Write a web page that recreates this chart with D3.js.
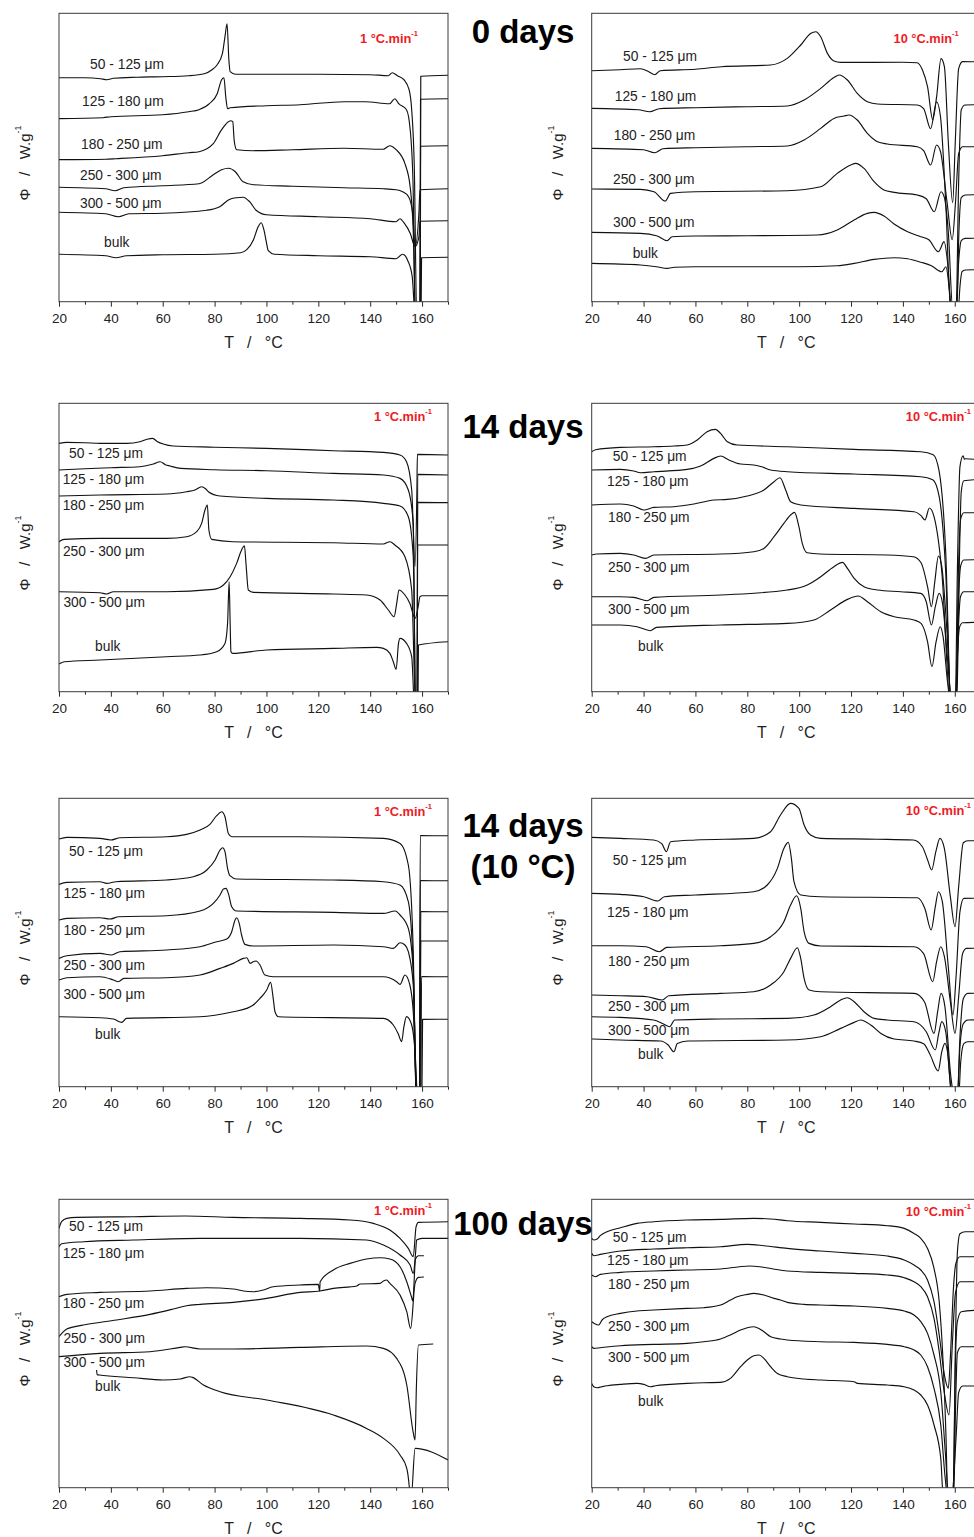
<!DOCTYPE html>
<html>
<head>
<meta charset="utf-8">
<script src="https://cdn.jsdelivr.net/npm/d3@7"></script>
<style>
  html, body { margin: 0; padding: 0; background: #fff; }
  svg { display: block; font-family: "Liberation Sans", Arial, sans-serif; }
</style>
</head>
<body>
<svg id="fig" width="974" height="1537"></svg>
<script>
// ---------------------------------------------------------------
// DSC heating curves of powder fractions, heat flow Φ (offset, a.u.)
// versus temperature T (°C). Each series is a list of [T, Φ] pairs,
// curves ordered: 50-125, 125-180, 180-250, 250-300, 300-500 µm, bulk.
// ---------------------------------------------------------------
const sizeLabels = ["50 - 125 \u03bcm", "125 - 180 \u03bcm", "180 - 250 \u03bcm",
                    "250 - 300 \u03bcm", "300 - 500 \u03bcm", "bulk"];
const tempTicks = [20, 40, 60, 80, 100, 120, 140, 160];
const tempMinorTicks = [30, 50, 70, 90, 110, 130, 150, 170];
const tempDomain = [20, 170];
const signalDomain = [0, 28.8];
const ageTitles = [["0 days"], ["14 days"], ["14 days", "(10 \u00b0C)"], ["100 days"]];
const rateLabels = ["1 \u00b0C.min", "10 \u00b0C.min"];

// 0 days, 1 °C/min
const day0_rate1 = [
  [[20,22.4],[30,22.4],[36,22.3],[38.5,22.2],[41,22.35],[50,22.45],[60,22.5],[70,22.6],[76,22.8],[79,23.2],[81,23.7],[83,24.8],[84,26.5],[84.8,27.8],[85.5,24.2],[86,23.0],[88,22.75],[100,22.75],[120,22.75],[140,22.7],[147,22.6],[148.5,22.9],[150.5,22.6],[153,22.2],[155,21.2],[156,19.2],[157,13.5],[158,-2],[159.3,-2],[159.5,22.55],[170,22.65]],
  [[20,18.3],[37,18.4],[40,18.5],[60,18.7],[70,19.0],[74,19.2],[78,19.8],[81,20.8],[82.7,22.2],[83.6,22.4],[84.3,20.5],[85,19.3],[86,19.4],[100,19.6],[113,19.7],[130,20.0],[138,20.0],[147.5,19.8],[149.5,20.3],[151,19.8],[154,19.2],[155.5,17.0],[156.5,12],[157.5,-2],[159.2,-2],[159.4,20.25],[170,20.3]],
  [[20,14.2],[38,14.25],[42,14.3],[60,14.6],[70,14.9],[74,15.0],[79.5,15.8],[82.7,17.2],[85.3,18.0],[86.2,18.1],[87,18.0],[87.6,16.0],[88.5,15.2],[95,15.1],[110,15.2],[130,15.35],[145,15.25],[147.5,15.6],[150,15.2],[153.4,13.8],[155.4,11.5],[156.6,7],[157.5,-2],[159.2,-2],[159.4,15.55],[170,15.6]],
  [[20,11.45],[38,11.3],[41.6,11.1],[45,11.4],[60,11.6],[74,11.8],[79.5,12.7],[82.7,13.2],[85.4,13.35],[88,13.0],[91,12.0],[95,11.7],[110,11.55],[130,11.4],[145,11.3],[150,11.2],[152.5,11.0],[154.8,10.5],[156.4,8.8],[157.3,5.5],[158.8,9],[159.2,11.2],[170,11.3]],
  [[20,8.95],[38,8.8],[42.9,8.5],[47,8.8],[60,8.85],[77,9.15],[82,9.5],[85.5,10.2],[88.5,10.4],[91,10.45],[93.5,10.0],[96,9.15],[100,8.7],[120,8.5],[140,8.3],[150,8.0],[151.5,8.3],[153,7.9],[155.5,6.8],[157.3,5.5],[158.8,6.5],[159.2,8.05],[170,8.1]],
  [[20,4.75],[38,4.6],[42,4.4],[46,4.6],[60,4.7],[80,4.75],[90,4.9],[92.4,5.2],[95,6.2],[96.8,7.5],[98,7.9],[99,7.2],[100,5.9],[100.7,5.1],[103,4.75],[120,4.6],[140,4.5],[150,4.3],[152.5,4.75],[154.5,4.1],[156.2,2.5],[157.5,-2],[159.6,-2],[159.8,4.4],[170,4.45]]
];

// 0 days, 10 °C/min
const day0_rate10 = [
  [[20,23.1],[31,23.2],[38.8,23.3],[42,23.0],[44.3,22.7],[46.5,23.1],[60,23.25],[70,23.5],[89,23.67],[95.4,24.33],[100.6,25.67],[104.4,26.83],[106.4,27.0],[108.3,26.5],[110.9,24.83],[113.4,24.07],[116,23.93],[140,23.95],[145.5,23.9],[147.5,23.2],[149.5,21.5],[151.5,18.2],[153,20.5],[154.7,24.3],[156,23.5],[157.5,16],[159.2,9.9],[160.2,16],[161.5,23.3],[163,24],[170,24]],
  [[20,19.33],[38,19.2],[42.4,19.0],[46,19.3],[60,19.4],[80,19.5],[95.4,19.57],[101.9,20.17],[108.3,21.33],[113.4,22.43],[115.4,22.67],[118.6,22.17],[122.4,20.83],[126.3,20.0],[130.2,19.77],[145.6,19.67],[148,19.3],[150.7,17.3],[153,20.0],[154.5,18.5],[156.5,10],[158.5,-1],[160.5,-1],[161.5,12],[162.5,19.2],[164,19.67],[170,19.7]],
  [[20,15.33],[40,15.2],[44.3,14.9],[47.5,15.3],[60,15.4],[80,15.5],[95.4,15.57],[101.9,16.17],[108.3,17.33],[113.4,18.33],[117.3,18.57],[119.2,18.67],[122.4,18.17],[126.3,16.83],[130.2,16.0],[134,15.77],[145.6,15.5],[148,15.1],[150.7,13.67],[153,15.67],[154.5,15.0],[157,10],[159,6.2],[160.3,10],[161.5,14.8],[163,15.5],[170,15.5]],
  [[20,11.27],[38.8,11.23],[44,11.0],[48.4,10.07],[50.4,10.83],[60,11.0],[95.4,11.1],[108.3,11.5],[114.7,12.83],[119.9,13.67],[121.8,13.83],[125,13.33],[128.9,12.0],[132.7,11.17],[136.6,10.93],[145.6,10.67],[149,10.3],[152.1,9.0],[154.7,11.0],[156,10.4],[157.5,7],[159.3,-1],[160.8,-1],[161.6,7],[162.5,10.4],[164,10.67],[170,10.7]],
  [[20,6.93],[38.8,6.83],[45,6.6],[49.1,6.1],[51,6.5],[60,6.57],[80,6.6],[107,6.67],[114.7,7.17],[121.2,8.17],[126.3,8.83],[128.9,8.93],[132.7,8.57],[136.6,7.77],[141.8,7.0],[146.9,6.5],[150,6.2],[153.7,5.0],[155.9,6.0],[157.2,4],[158.8,-1],[160.5,-1],[161.5,4],[162.5,6.1],[164,6.33],[170,6.35]],
  [[20,3.83],[38.8,3.67],[45,3.5],[49.1,3.33],[52,3.45],[60,3.5],[100,3.5],[114.7,3.6],[121.2,3.83],[128.9,4.23],[136.6,4.4],[141.8,4.3],[146.9,3.95],[151,3.6],[155,3.0],[156.6,3.5],[157.8,1.5],[158.8,-1],[161.3,-1],[162,1.5],[162.8,3.0],[164,3.17],[170,3.2]]
];

// 14 days, 1 °C/min
const day14_rate1 = [
  [[20,24.83],[23,24.93],[30,24.9],[35.8,24.83],[46.1,24.83],[51.2,25.0],[54,25.25],[56.1,25.33],[58,25.0],[60.2,24.77],[64,24.57],[80,24.45],[100,24.33],[125.8,24.1],[145.1,23.93],[151.5,23.67],[154,23.0],[156,20.17],[157.3,12.5],[158.0,20],[158.2,23.73],[170,23.67]],
  [[20,22.17],[30,22.3],[40,22.4],[51.2,22.5],[56.4,22.77],[59,23.0],[61,22.7],[62.8,22.57],[67,22.33],[80,22.2],[100,22.1],[125.8,21.83],[145.1,21.67],[151.5,21.33],[154.7,20.17],[156.6,16.83],[157.5,-2],[158.1,-2],[158.3,21.73],[170,21.67]],
  [[20,19.57],[35.8,19.67],[61.5,19.77],[69.2,20.0],[72.4,20.17],[75,20.5],[76.5,20.3],[77.6,20.0],[82.1,19.57],[100,19.33],[125.8,19.17],[145.1,18.83],[151.5,18.57],[154.7,17.5],[156.6,13.5],[157.6,-2],[158.1,-2],[158.3,18.93],[170,18.9]],
  [[20,15.0],[22,15.23],[35.8,15.33],[61.5,15.33],[69.2,15.5],[73.1,16.0],[75,16.83],[76.3,18.17],[77.2,18.67],[77.8,16.17],[78.9,15.23],[87,15.0],[125.8,14.9],[145.1,14.77],[147.6,15.0],[149.5,14.67],[153.4,13.5],[156,10.17],[157.6,-2],[158.1,-2],[158.3,14.67],[170,14.67]],
  [[20,10.0],[35.8,9.9],[38.4,9.77],[41,10.0],[61.5,10.0],[79.5,10.23],[83.4,10.67],[86,11.5],[88.5,12.83],[90.4,14.17],[91.5,14.6],[92.1,12.83],[93,10.17],[95,9.93],[125.8,9.77],[138.6,9.67],[143.8,9.17],[147,8.17],[149.2,7.5],[150.2,8.8],[151.1,10.17],[153.4,9.67],[155.3,8.83],[157.3,7.33],[158.5,8.5],[159.2,9.5],[160,9.6],[170,9.6]],
  [[20,2.77],[22,3.0],[35.8,3.17],[61.5,3.5],[74.4,3.67],[80.8,4.0],[84,4.83],[85,6.83],[85.6,11.0],[86,6.83],[86.3,4.0],[87,3.83],[100,4.17],[125.8,4.33],[142.5,4.43],[145.1,4.33],[147.6,3.83],[148.9,3.0],[150,2.23],[150.9,4.8],[151.5,5.33],[154,4.83],[156,3.5],[157.2,-2],[158.4,-2],[158.6,4.67],[170,5.0]]
];

// 14 days, 10 °C/min
const day14_rate10 = [
  [[20,24.0],[21.5,24.2],[31,24.43],[44,24.5],[51.7,24.57],[56.8,24.67],[60.7,25.17],[64.5,26.0],[67.7,26.23],[69.7,25.83],[72.3,25.0],[76.1,24.67],[95.4,24.5],[121.2,24.23],[146.9,24.0],[151.7,23.7],[154,22],[156.5,14],[158.5,-1],[160.2,-1],[161,12],[162,22.5],[163.2,23.6],[163.7,23.25],[164.2,23.3],[170,23.17]],
  [[20,22.17],[31,22.23],[36.2,22.07],[38.8,21.9],[44,22.0],[56.8,22.23],[62,22.57],[67.1,23.33],[69.7,23.57],[72.9,23.17],[77.4,22.77],[82.5,22.67],[85.5,22.5],[89,22.17],[95.4,22.0],[121.2,21.77],[146.9,21.5],[151.5,21.2],[154,19.5],[156.5,12],[158.5,-1],[160.8,-1],[161.7,12],[162.5,20],[163.5,21.1],[170,21.23]],
  [[20,18.67],[31,18.77],[36.2,18.57],[40.1,18.17],[44,18.43],[51.7,18.5],[59.4,18.77],[67.1,19.17],[72.3,19.23],[80,19.57],[86.4,20.17],[90.3,21.0],[92.6,21.4],[94.8,20.17],[96.7,19.0],[100.6,18.67],[121.2,18.33],[144.3,18.0],[147,17.6],[148.5,17.17],[150.2,18.37],[152,17.5],[155,12],[158.3,-1],[160.5,-1],[161.4,12],[162.3,17.3],[163.5,17.9],[170,17.9]],
  [[20,13.67],[22,13.77],[31,13.83],[36.2,13.67],[40.7,13.33],[44,13.67],[69.7,13.77],[82.5,14.0],[86.4,14.33],[90.3,15.5],[94.1,16.83],[96.7,17.67],[98.2,17.93],[99.9,16.5],[101.2,14.83],[103.1,13.9],[108,13.77],[134,13.67],[144,13.5],[147,12.9],[149.5,10.5],[151,8.5],[152.3,11],[153.7,13.57],[155,12.5],[157,6],[158.6,-1],[160.5,-1],[161.3,8],[162.3,12.6],[163.5,13.17],[170,13.2]],
  [[20,9.5],[31,9.5],[36.2,9.43],[41.4,9.1],[44,9.43],[69.7,9.67],[95.4,10.17],[103.1,10.67],[108.3,11.5],[113.4,12.5],[116.7,12.93],[118.6,12.33],[121.2,11.33],[125,10.5],[130.2,10.17],[139.2,10.0],[146.9,9.83],[149,9.0],[151,6.67],[152.5,8.5],[154,9.83],[155.3,8.8],[157.3,3],[158.8,-1],[160.5,-1],[161.2,5],[162.2,9.5],[163.5,10.0],[170,10.0]],
  [[20,6.67],[31,6.67],[37.5,6.5],[42.6,6.1],[45,6.43],[69.7,6.67],[95.4,6.83],[105.7,7.17],[112.1,8.17],[118.6,9.23],[122.7,9.57],[126.3,9.0],[131.5,8.0],[136.6,7.5],[144.3,7.17],[147,6.83],[149.5,5.0],[151.2,2.5],[152.8,5],[154.4,6.5],[155.5,5.5],[157.2,1],[158.4,-1],[160.2,-1],[160.9,3],[161.8,6.4],[163,6.9],[170,6.95]]
];

// 14 days at 10 °C, 1 °C/min
const day14cold_rate1 = [
  [[20,24.77],[23,24.93],[35.8,24.83],[40,24.67],[43.5,24.9],[61.5,25.0],[69.2,25.23],[74.4,25.67],[78.2,26.23],[80.8,27.1],[82.7,27.5],[84,27.0],[85.3,25.33],[86.6,25.0],[113,25.0],[145.1,24.83],[151.5,24.33],[154.7,22.17],[156.6,13.5],[157.8,-2],[159,-2],[159.3,25.1],[170,25.1]],
  [[20,20.23],[23,20.43],[35.8,20.5],[38.4,20.33],[42,20.5],[61.5,20.67],[71.8,21.0],[77,21.67],[80.2,22.67],[82.1,23.67],[83.1,23.9],[84,23.5],[85,21.83],[85.9,21.1],[88.5,20.77],[125.8,20.67],[145.1,20.5],[151.5,20.17],[154.7,18.5],[156.6,11.8],[157.9,-2],[159,-2],[159.3,20.6],[170,20.6]],
  [[20,16.67],[23,16.83],[35.8,16.9],[39.7,16.77],[43,17.0],[61.5,17.1],[74.4,17.57],[79.5,18.33],[82.1,19.17],[83.4,19.77],[84.4,19.83],[85.3,19.33],[86.6,18.0],[88.5,17.57],[125.8,17.43],[145.1,17.33],[149.6,17.57],[151.5,17.17],[154.7,15.83],[156.6,11.5],[158,-2],[159.2,-2],[159.5,17.5],[170,17.5]],
  [[20,12.83],[23,13.1],[35.8,13.33],[40.3,13.17],[43.5,13.5],[61.5,13.67],[74.4,14.0],[80.8,14.5],[84.7,14.77],[86.6,15.5],[87.9,16.67],[88.5,16.9],[89.5,16.33],[90.4,15.17],[91.7,14.23],[94.9,14.07],[125.8,14.17],[145.1,14.0],[148.9,13.83],[151.5,14.4],[153.4,14.17],[154.7,13.5],[156.6,10.17],[158.1,-2],[159.2,-2],[159.5,14.57],[170,14.57]],
  [[20,10.67],[23,10.9],[35.8,11.0],[41,10.67],[42.9,10.5],[45,10.83],[61.5,10.9],[74.4,11.17],[82.1,11.83],[87.2,12.33],[91.1,12.83],[92.4,12.9],[93.7,12.33],[94.9,12.5],[96,12.57],[97.5,12.17],[99.4,11.17],[102.6,11.0],[145.1,11.0],[150.2,10.5],[151.5,10.23],[153.4,11.17],[155.3,10.17],[156.6,7.5],[158.2,-2],[159.5,-2],[159.8,11.0],[170,11.0]],
  [[20,7.0],[35.8,6.9],[41,6.77],[44.2,6.43],[46,6.83],[74.4,7.0],[87.2,7.5],[92.4,7.83],[94.9,8.17],[97.5,8.83],[100.1,9.67],[101.6,10.43],[102.6,8.83],[103.3,7.5],[104.6,7.0],[145.1,6.83],[148.9,6.17],[150.8,5.3],[152.1,4.5],[153,6.0],[154,7.0],[156,6.17],[157.3,3.5],[158.5,-2],[159.9,-2],[160.2,6.73],[170,6.75]]
];

// 14 days at 10 °C, 10 °C/min
const day14cold_rate10 = [
  [[20,24.93],[31,24.83],[43.9,24.67],[47,24.3],[48.8,23.5],[50.4,24.5],[60,24.67],[82.5,24.83],[89,25.5],[92.8,27.17],[96.7,28.33],[99.9,27.83],[101.9,26.17],[104.4,25.17],[108.3,24.83],[130,24.75],[144,24.67],[147.5,24.0],[149.5,22.7],[151.1,21.67],[152.7,23.5],[154.3,24.83],[156,23.8],[158.3,19],[160.1,16.0],[161.5,20],[163.3,24.4],[165,24.6],[170,24.6]],
  [[20,19.33],[31,19.23],[40.1,19.0],[45.5,18.57],[48,19.0],[60,19.17],[82.5,19.5],[87.7,20.17],[91.6,21.83],[94.1,23.83],[95.8,24.43],[97,22.83],[98,20.5],[100.6,19.17],[108,19.0],[145.6,18.9],[148.5,17.8],[150.9,15.67],[152.5,18],[153.7,19.5],[155.2,18.5],[157.5,12],[159.3,7.17],[160.5,11],[162,17.5],[163.5,18.83],[170,18.85]],
  [[20,14.1],[31,14.1],[41,14.0],[46.1,13.5],[49,13.93],[69.7,14.1],[82.5,14.33],[89,15.0],[94.1,16.5],[96.7,18.17],[99,19.1],[100.6,17.83],[101.9,15.5],[103.8,14.33],[108.3,14.07],[144.3,14.0],[148,13.3],[151.5,10.5],[153,12.5],[154.6,14.0],[156,13.0],[158.3,8.5],[160.1,5.33],[161.5,9],[163,13.3],[164.5,13.83],[170,13.85]],
  [[20,9.17],[31,9.1],[41.4,9.0],[47.2,8.67],[49.7,9.1],[69.7,9.33],[82.5,9.5],[89,10.17],[94.1,11.5],[96.7,12.83],[99.3,13.9],[100.6,12.83],[101.9,10.83],[103.8,9.67],[108.3,9.5],[144.3,9.33],[148.3,8.5],[152,5.33],[153.4,7.5],[154.7,9.33],[156.2,8],[158.5,1],[159.8,-1],[161,-1],[162,5],[163.3,8.8],[165,9.33],[170,9.35]],
  [[20,7.0],[31,6.93],[43.9,6.67],[47.5,6.3],[50.1,6.0],[52,6.67],[69.7,6.77],[95.4,6.83],[105.7,7.17],[112.1,8.0],[116,8.67],[118.6,8.9],[121.2,8.5],[125,7.5],[128.9,6.83],[134,6.67],[144.3,6.5],[149,5.5],[152.5,3.67],[153.8,5.3],[155,6.5],[156.5,5.5],[158.5,0],[159.5,-1],[161,-1],[162,4],[163.3,6.3],[165,6.67],[170,6.7]],
  [[20,4.77],[31,4.67],[46.5,4.57],[49.5,4.17],[51.7,3.5],[53,4.33],[57,4.57],[95.4,4.67],[108.3,5.0],[116,5.83],[121.2,6.43],[123.7,6.67],[127.6,6.17],[131.5,5.33],[136.6,4.77],[144.3,4.57],[148,4.3],[150.5,3.2],[153.6,1.57],[155,3.5],[156.2,4.33],[157.3,3.3],[158.8,-1],[161.5,-1],[162.3,2.5],[163.5,4.3],[165,4.5],[170,4.5]]
];

// 100 days, 1 °C/min
const day100_rate1 = [
  [[20,25.93],[21,26.6],[23,26.93],[26.8,27.03],[48.7,27.1],[68.6,27.17],[87.2,27.03],[112.9,26.93],[132.2,26.77],[141.2,26.43],[147.6,25.77],[151.5,24.93],[154.7,23.93],[156.6,23.1],[157.7,26.1],[158.6,26.53],[170,26.6]],
  [[20,24.1],[21,24.4],[29.4,24.6],[48.7,24.77],[74.4,24.93],[112.9,24.93],[138.6,24.77],[145.1,24.27],[151.5,23.27],[155.4,22.27],[156.6,21.43],[157.5,23.5],[157.9,24.77],[160,24.93],[170,24.93]],
  [[20,19.1],[23,19.33],[35.8,19.53],[55.1,19.67],[69.2,19.93],[76.9,20.0],[87.2,19.87],[91.1,19.67],[94.9,19.6],[98.8,19.77],[102.6,20.1],[112.9,20.27],[120,20.33],[120.5,19.67],[120.7,20.6],[125.8,21.77],[132.2,22.43],[138.6,22.87],[143.8,23.0],[147.6,22.87],[151.5,22.1],[154.1,20.6],[156,19.0],[156.4,18.67],[157.5,22.9],[158.6,23.2],[160.7,23.2]],
  [[20,15.1],[23,15.87],[29.4,16.27],[42.2,16.77],[55.1,17.33],[64.1,17.87],[69.2,18.2],[74.4,18.33],[87.2,18.53],[100.1,18.93],[112.9,19.53],[120.6,19.67],[125.8,19.93],[134.8,20.17],[136.1,20.37],[143.8,20.43],[145.1,20.67],[146.3,20.77],[147.6,20.43],[151.5,19.27],[154.1,17.6],[155.6,15.93],[157.3,20.43],[158.6,21.03],[160.7,21.07]],
  [[20,13.1],[35.8,13.43],[55.1,13.6],[66.7,14.03],[68.6,14.1],[74.4,13.87],[87.2,13.87],[112.9,14.03],[138.6,14.17],[145.1,13.93],[150.2,12.93],[154.1,10.27],[156.6,5.5],[157.3,4.77],[157.8,10],[158.6,14.27],[164.3,14.37]],
  [[34.5,11.77],[34.7,11.3],[35.5,11.27],[48.7,11.0],[60.2,10.77],[66.7,10.87],[70.5,11.1],[71.5,11.03],[75.7,10.27],[82.1,9.6],[100.1,8.77],[125.8,7.27],[138.6,5.93],[145.1,4.93],[151.5,3.27],[154.1,1.93],[155.1,0],[155.4,-1],[155.8,-1],[157.3,3.93],[170,2.77]]
];

// 100 days, 10 °C/min
const day100_rate10 = [
  [[20,24.93],[20.8,24.77],[22.1,24.87],[23.3,25.2],[25.9,25.6],[31.1,26.0],[37.5,26.43],[43.9,26.6],[56.8,26.77],[69.7,26.83],[82.5,26.93],[89,26.87],[95.4,26.7],[108.3,26.53],[121.2,26.37],[134,26.2],[140.5,25.93],[144.3,25.43],[146.9,24.93],[149.5,23.93],[152,21.93],[154,18.6],[155.3,13.6],[156.6,5.3],[157.3,-1],[159.3,-1],[160.3,15],[161,23.5],[162,25.4],[164,25.6],[170,25.6]],
  [[20,23.43],[20.8,23.2],[23.3,23.33],[31.1,23.67],[43.9,23.87],[56.8,24.0],[69.7,24.1],[80,24.33],[86.4,24.2],[95.4,23.93],[108.3,23.67],[121.2,23.43],[134,23.17],[140.5,22.77],[144.3,22.27],[146.9,21.77],[149.5,20.77],[152,18.6],[154,15.27],[156.2,11],[157.5,9.93],[158.3,13],[159.5,20],[160.5,22.5],[162,23.1],[170,23.1]],
  [[20,21.27],[21.5,21.1],[23.3,21.33],[31.1,21.53],[43.9,21.67],[56.8,21.77],[69.7,21.87],[77,22.1],[80.9,22.17],[84.8,22.1],[90,21.87],[95.4,21.67],[108.3,21.53],[121.2,21.43],[134,21.27],[140.5,21.0],[144.3,20.6],[146.9,20.1],[149.5,19.1],[152,16.93],[154,13.6],[155.9,9.6],[157.8,7.27],[159,14],[160.3,19.5],[162,20.6],[170,20.6]],
  [[20,16.6],[21,16.43],[22.7,16.27],[24,16.77],[25.9,17.1],[31.1,17.43],[37.5,17.67],[43.9,17.77],[56.8,17.93],[63.2,18.0],[69.7,18.27],[73.5,18.77],[76.1,19.1],[80,19.33],[82.5,19.43],[86.4,19.27],[90.3,18.93],[92.8,18.77],[95.4,18.53],[101.9,18.33],[108.3,18.27],[121.2,18.17],[134,17.93],[140.5,17.67],[144.3,17.27],[146.9,16.6],[149.5,15.43],[152,13.27],[154.6,9.6],[156.5,3],[157.6,-1],[159.4,-1],[160.2,12],[161,16.6],[162.5,17.6],[170,17.77]],
  [[20,14.1],[20.8,13.93],[23.3,14.0],[31.1,14.2],[43.9,14.33],[56.8,14.43],[63.2,14.6],[69.7,14.87],[73.5,15.27],[77.4,15.77],[80,16.0],[82.5,16.1],[84.5,15.93],[86.4,15.6],[89,15.1],[92.8,14.87],[95.4,14.77],[108.3,14.6],[121.2,14.53],[134,14.33],[140.5,14.1],[144.3,13.77],[146.9,13.27],[149.5,12.1],[152,9.93],[154.6,6.27],[156.3,1],[157.3,-1],[159.6,-1],[160.3,8],[161,13.5],[162.5,14.1],[170,14.1]],
  [[20,10.43],[20.8,10.1],[22.1,10.0],[23.9,10.1],[25.9,10.2],[31.1,10.33],[37.5,10.43],[40.1,10.33],[42.7,10.1],[44.6,10.2],[50.4,10.33],[56.8,10.43],[63.2,10.5],[69.7,10.53],[73.5,10.93],[77.4,12.1],[80,12.77],[82.5,13.2],[84.5,13.27],[86.4,12.93],[89,12.1],[91.6,11.43],[95.4,11.1],[101.9,10.87],[108.3,10.77],[121.2,10.6],[122.4,10.43],[134,10.27],[140.5,10.1],[144.3,9.77],[146.9,9.27],[149.5,8.27],[152,6.27],[154.6,2.93],[155.6,-1],[158.8,-1],[160.5,5],[161.5,9.5],[163,10.17],[170,10.17]]
];

// ---------------------------------------------------------------
// Layout
// ---------------------------------------------------------------
const COLS = [
  { x0: 59,    x1: 448,   yTitleX: 24 },
  { x0: 591.7, x1: 980.7, yTitleX: 557 }
];
const ROWS = [
  { bottom: 301.7,  titleBaselines: [43.3] },
  { bottom: 691.7,  titleBaselines: [438.3] },
  { bottom: 1086.7, titleBaselines: [837, 878] },
  { bottom: 1487.7, titleBaselines: [1235] }
];
const PANEL_H = 288.4;

// curve-name anchors in [T, Φ] for every panel
const labelsAt = [
  [[32,23.77],[28.9,20.07],[28.5,15.77],[28.1,12.67],[28.1,9.87],[37.4,5.97]],
  [[32.1,24.5],[28.9,20.57],[28.5,16.6],[28.2,12.23],[28.2,7.9],[35.8,4.83]],
  [[23.9,23.83],[21.4,21.23],[21.4,18.6],[21.5,14.07],[21.7,8.9],[33.9,4.57]],
  [[28.1,23.5],[25.9,21.0],[26.3,17.43],[26.3,12.43],[26.3,8.27],[37.9,4.57]],
  [[23.9,23.57],[21.7,19.33],[21.7,15.67],[21.7,12.17],[21.7,9.27],[33.9,5.27]],
  [[28.1,22.67],[25.9,17.43],[26.3,12.5],[26.3,8.0],[26.3,5.67],[37.9,3.23]],
  [[23.9,26.1],[21.4,23.43],[21.4,18.43],[21.7,14.93],[21.7,12.53],[33.9,10.17]],
  [[28.1,25.0],[25.9,22.77],[26.3,20.37],[26.3,16.1],[26.3,13.0],[37.9,8.6]]
];

const panels = [
  { row: 0, col: 0, series: day0_rate1,       rate: 0, rateRight: 30,  rateY: 24.7 },
  { row: 0, col: 1, series: day0_rate10,      rate: 1, rateRight: 22,  rateY: 25 },
  { row: 1, col: 0, series: day14_rate1,      rate: 0, rateRight: 16,  rateY: 12.7 },
  { row: 1, col: 1, series: day14_rate10,     rate: 1, rateRight: 9.7, rateY: 12.7 },
  { row: 2, col: 0, series: day14cold_rate1,  rate: 0, rateRight: 16,  rateY: 13 },
  { row: 2, col: 1, series: day14cold_rate10, rate: 1, rateRight: 9.7, rateY: 12 },
  { row: 3, col: 0, series: day100_rate1,     rate: 0, rateRight: 16,  rateY: 10.5 },
  { row: 3, col: 1, series: day100_rate10,    rate: 1, rateRight: 9.7, rateY: 12 }
];

// ---------------------------------------------------------------
// Drawing
// ---------------------------------------------------------------
const svg = d3.select("#fig");
svg.append("rect").attr("width", 974).attr("height", 1537).attr("fill", "#fff");
const defs = svg.append("defs");

panels.forEach((p, i) => {
  const c = COLS[p.col], r = ROWS[p.row];
  const top = r.bottom - PANEL_H;
  const x = d3.scaleLinear().domain(tempDomain).range([c.x0, c.x1]);
  const y = d3.scaleLinear().domain(signalDomain).range([r.bottom, r.bottom - 288]);
  const g = svg.append("g");

  const clipId = "plot-clip-" + i;
  defs.append("clipPath").attr("id", clipId)
    .append("rect").attr("x", c.x0).attr("y", top)
    .attr("width", c.x1 - c.x0).attr("height", PANEL_H);

  const line = d3.line()
    .x(d => x(d[0])).y(d => y(d[1]))
    .curve(d3.curveMonotoneX);

  g.append("g").attr("clip-path", `url(#${clipId})`)
    .selectAll("path").data(p.series).join("path")
    .attr("d", line)
    .attr("fill", "none")
    .attr("stroke", "#111")
    .attr("stroke-width", 1.15)
    .attr("stroke-linejoin", "round");

  // frame
  g.append("rect")
    .attr("x", c.x0).attr("y", top)
    .attr("width", c.x1 - c.x0).attr("height", PANEL_H)
    .attr("fill", "none").attr("stroke", "#3a3a3a").attr("stroke-width", 1);

  // temperature axis
  const major = g.append("g").attr("transform", `translate(0,${r.bottom})`)
    .call(d3.axisBottom(x).tickValues(tempTicks).tickSize(5).tickSizeOuter(0).tickPadding(7));
  major.select(".domain").remove();
  major.attr("font-family", null).attr("font-size", 13.5).attr("color", "#2a2a2a");
  major.selectAll("text").attr("fill", "#222");

  const minor = g.append("g").attr("transform", `translate(0,${r.bottom})`)
    .call(d3.axisBottom(x).tickValues(tempMinorTicks).tickSize(3).tickSizeOuter(0).tickFormat(""));
  minor.select(".domain").remove();
  minor.attr("color", "#2a2a2a");

  // axis titles
  g.append("text")
    .attr("x", (c.x0 + c.x1) / 2).attr("y", r.bottom + 46.5)
    .attr("text-anchor", "middle").attr("font-size", 16).attr("fill", "#222")
    .style("white-space", "pre")
    .text("T   /   \u00b0C");

  const yt = g.append("text")
    .attr("transform", `translate(${c.yTitleX},${(top + r.bottom) / 2 + 5.5}) rotate(-90)`)
    .attr("text-anchor", "middle").attr("font-size", 15).attr("fill", "#222")
    .attr("dominant-baseline", "central")
    .style("white-space", "pre");
  yt.append("tspan").text("\u03a6   /   W.g");
  yt.append("tspan").attr("font-size", 9).attr("dy", -6).text("-1");

  // heating-rate tag
  const rt = g.append("text")
    .attr("x", c.x1 - p.rateRight).attr("y", top + p.rateY)
    .attr("text-anchor", "end").attr("dominant-baseline", "central")
    .attr("font-size", 12.8).attr("font-weight", "bold").attr("fill", "#ee1c24");
  rt.append("tspan").text(rateLabels[p.rate]);
  rt.append("tspan").attr("font-size", 7.5).attr("dy", -5).text("-1");

  // curve names
  g.selectAll("text.curve-name").data(labelsAt[i]).join("text")
    .attr("class", "curve-name")
    .attr("x", d => x(d[0])).attr("y", d => y(d[1]))
    .attr("dominant-baseline", "central")
    .attr("font-size", 13.8).attr("fill", "#222")
    .text((d, k) => sizeLabels[k]);
});

// ageing titles between the columns
ROWS.forEach((r, k) => {
  ageTitles[k].forEach((t, j) => {
    svg.append("text")
      .attr("x", 523).attr("y", r.titleBaselines[j])
      .attr("text-anchor", "middle")
      .attr("font-size", 33).attr("font-weight", "bold").attr("fill", "#000")
      .text(t);
  });
});
</script>
</body>
</html>
